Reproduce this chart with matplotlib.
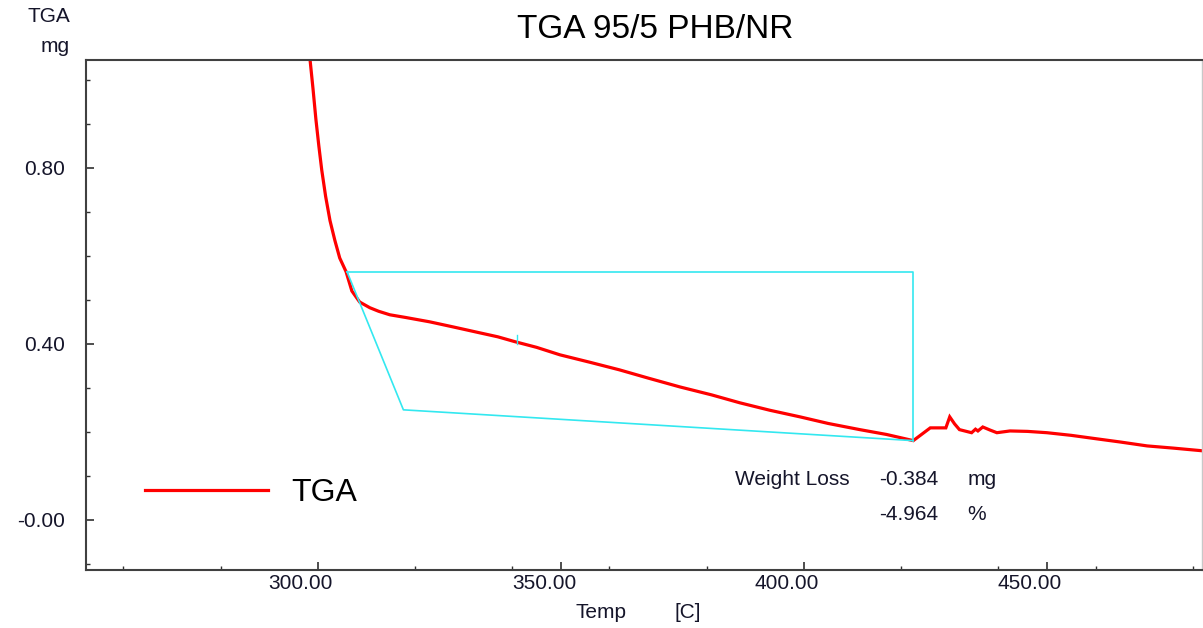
import matplotlib.pyplot as plt
from matplotlib.ticker import MultipleLocator, FormatStrFormatter
from matplotlib.transforms import ScaledTranslation

plt.rcParams['font.family'] = ['Liberation Sans', 'DejaVu Sans']

# TGA curve (temperature in C, mass in mg)
temp = [298.4, 299.0, 299.6, 300.2, 300.8, 301.6, 302.5, 303.5, 304.5, 305.8, 307.0,
        308.6, 310.7, 312.5, 314.8, 318.0, 323.0, 328.0, 333.3, 337.0, 340.5, 345.0,
        349.8, 356.0, 362.0, 368.0, 374.5, 381.0, 386.8, 393.0, 399.2, 405.0, 411.5,
        417.0, 422.5, 426.0, 429.2, 430.0, 431.0, 432.0, 434.5, 435.3, 435.8,
        436.8, 438.3, 439.7, 442.4, 446.0, 450.0, 455.0, 460.3, 465.0, 470.6, 476.0, 481.9]
mass = [1.045, 0.98, 0.91, 0.85, 0.795, 0.735, 0.68, 0.635, 0.595, 0.564, 0.52,
        0.495, 0.482, 0.474, 0.466, 0.46, 0.45, 0.438, 0.425, 0.416, 0.405, 0.392,
        0.375, 0.358, 0.341, 0.322, 0.302, 0.284, 0.266, 0.249, 0.234, 0.219, 0.205,
        0.194, 0.18, 0.209, 0.209, 0.234, 0.218, 0.205, 0.198, 0.206, 0.202,
        0.211, 0.204, 0.198, 0.202, 0.201, 0.198, 0.192, 0.184, 0.177, 0.168, 0.163, 0.157]

# weight loss construction lines
step_temp = [306.0, 422.5, 422.5]
step_mass = [0.564, 0.564, 0.18]
base_temp = [306.0, 317.6, 422.5]
base_mass = [0.564, 0.25, 0.18]
weight_loss = -0.384
weight_loss_pct = -4.964

red = '#ff0000'
cyan = '#33e8f0'
txt = '#15152a'
fs = 15

fig = plt.figure(figsize=(12.03, 6.28), dpi=100)
ax = fig.add_axes([86 / 1203, 58 / 628, 1116 / 1203, 510 / 628])

ax.plot(temp, mass, color=red, lw=2.3, solid_joinstyle='miter')
ax.plot(step_temp, step_mass, color=cyan, lw=1.2)
ax.plot(base_temp, base_mass, color=cyan, lw=1.2)
ax.plot([340.9, 340.9], [0.40, 0.42], color=cyan, lw=1.0)

ax.xaxis.set_major_locator(MultipleLocator(50))
ax.xaxis.set_minor_locator(MultipleLocator(20))
ax.yaxis.set_minor_locator(MultipleLocator(0.1))
ax.xaxis.set_major_formatter(FormatStrFormatter('%.2f'))
yticks = [0.0, 0.4, 0.8]
ax.set_yticks(yticks)
ax.set_yticklabels(['-0.00', '0.40', '0.80'])
ax.set_xlim(252.3, 481.9)
ax.set_ylim(-0.114, 1.045)

ax.tick_params(which='major', direction='in', length=6, width=1.2, colors='#303030',
               labelcolor=txt, labelsize=fs)
ax.tick_params(which='minor', direction='in', length=3, width=1.0, colors='#303030')
ax.tick_params(axis='x', which='major', pad=3)
ax.tick_params(axis='y', which='major', pad=15)

# the instrument software puts the x labels a little left of their ticks
shift = ScaledTranslation(-17 / 100, 0, fig.dpi_scale_trans)
for lab in ax.get_xticklabels():
    lab.set_transform(lab.get_transform() + shift)

for side in ['left', 'bottom', 'top']:
    ax.spines[side].set_color('#404040')
    ax.spines[side].set_linewidth(1.5)
ax.spines['right'].set_color('#c8c8c8')
ax.spines['right'].set_linewidth(1.0)

fig.text(655 / 1203, 1 - 29 / 628, 'TGA 95/5 PHB/NR', ha='center', va='center',
         fontsize=24, color='black')
fig.text(70 / 1203, 1 - 17 / 628, 'TGA', ha='right', va='center', fontsize=fs, color=txt)
fig.text(70 / 1203, 1 - 46 / 628, 'mg', ha='right', va='center', fontsize=fs, color=txt)
fig.text(601 / 1203, 1 - 612 / 628, 'Temp', ha='center', va='center', fontsize=fs, color=txt)
fig.text(688 / 1203, 1 - 612 / 628, '[C]', ha='center', va='center', fontsize=fs, color=txt)

# legend drawn as in the instrument software
ax.plot([264.5, 289.8], [0.068, 0.068], color=red, lw=2.3)
ax.text(294.5, 0.062, 'TGA', ha='left', va='center', fontsize=23, color='black')

ax.text(409.5, 0.092, 'Weight Loss', ha='right', va='center', fontsize=fs, color=txt)
ax.text(427.6, 0.092, '%.3f' % weight_loss, ha='right', va='center', fontsize=fs, color=txt)
ax.text(427.6, 0.012, '%.3f' % weight_loss_pct, ha='right', va='center', fontsize=fs, color=txt)
ax.text(433.7, 0.092, 'mg', ha='left', va='center', fontsize=fs, color=txt)
ax.text(433.7, 0.012, '%', ha='left', va='center', fontsize=fs, color=txt)

fig.savefig('out.png', dpi=100)
